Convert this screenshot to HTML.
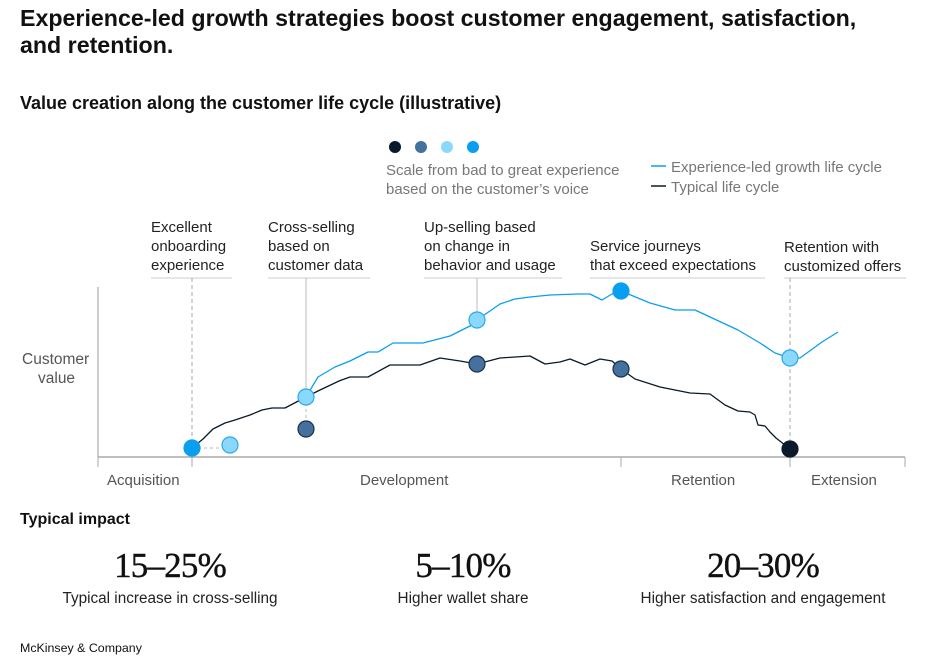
<!DOCTYPE html>
<html><head><meta charset="utf-8">
<style>
html,body{margin:0;padding:0;background:#fff;width:940px;height:665px;overflow:hidden}
svg{display:block;font-family:"Liberation Sans",sans-serif}
</style></head>
<body>
<svg id="chart" width="940" height="665" viewBox="0 0 940 665">
<text x="20" y="26" font-size="23.2" font-weight="bold" fill="#111">Experience-led growth strategies boost customer engagement, satisfaction,</text>
<text x="20" y="53" font-size="23.2" font-weight="bold" fill="#111">and retention.</text>
<text x="20" y="109" font-size="18" font-weight="bold" fill="#111">Value creation along the customer life cycle (illustrative)</text>

<g>
<circle cx="395" cy="147" r="6" fill="#0a1a2a"/>
<circle cx="421" cy="147" r="6" fill="#44719e"/>
<circle cx="447" cy="147" r="6" fill="#8ad8fb"/>
<circle cx="473" cy="147" r="6" fill="#0a9ef0"/>
<text x="386" y="175" font-size="15" fill="#777">Scale from bad to great experience</text>
<text x="386" y="194" font-size="15" fill="#777">based on the customer’s voice</text>
<line x1="651" y1="166" x2="666" y2="166" stroke="#0a9ef0" stroke-width="1.5"/>
<text x="671" y="172" font-size="15" fill="#777">Experience-led growth life cycle</text>
<line x1="651" y1="186" x2="666" y2="186" stroke="#0a1a2a" stroke-width="1.5"/>
<text x="671" y="192" font-size="15" fill="#777">Typical life cycle</text>
</g>

<g font-size="15" fill="#222">
<text x="151" y="232"><tspan x="151">Excellent</tspan><tspan x="151" dy="19">onboarding</tspan><tspan x="151" dy="19">experience</tspan></text>
<line x1="151" y1="278" x2="232" y2="278" stroke="#ddd" stroke-width="1.5"/>
<text x="268" y="232"><tspan x="268">Cross-selling</tspan><tspan x="268" dy="19">based on</tspan><tspan x="268" dy="19">customer data</tspan></text>
<line x1="268" y1="278" x2="370" y2="278" stroke="#ddd" stroke-width="1.5"/>
<text x="424" y="232"><tspan x="424">Up-selling based</tspan><tspan x="424" dy="19">on change in</tspan><tspan x="424" dy="19">behavior and usage</tspan></text>
<line x1="424" y1="278" x2="562" y2="278" stroke="#ddd" stroke-width="1.5"/>
<text x="590" y="251"><tspan x="590">Service journeys</tspan><tspan x="590" dy="19">that exceed expectations</tspan></text>
<line x1="590" y1="278" x2="765" y2="278" stroke="#ddd" stroke-width="1.5"/>
<text x="784" y="252"><tspan x="784">Retention with</tspan><tspan x="784" dy="19">customized offers</tspan></text>
<line x1="784" y1="278" x2="906" y2="278" stroke="#ddd" stroke-width="1.5"/>
</g>

<text x="22" y="364" font-size="15.5" fill="#555">Customer</text>
<text x="38" y="383" font-size="15.5" fill="#555">value</text>

<g id="plot"></g>

<text x="20" y="524" font-size="16" font-weight="bold" fill="#111">Typical impact</text>
<g font-family="'Liberation Serif',serif" font-size="35" fill="#111" text-anchor="middle" letter-spacing="-0.8" stroke="#111" stroke-width="0.4">
<text x="170" y="577">15–25%</text>
<text x="463" y="577">5–10%</text>
<text x="763" y="577">20–30%</text>
</g>
<g font-size="15.3" fill="#222" text-anchor="middle">
<text x="170" y="603">Typical increase in cross-selling</text>
<text x="463" y="603">Higher wallet share</text>
<text x="763" y="603">Higher satisfaction and engagement</text>
</g>
<text x="20" y="652" font-size="12.4" fill="#111">McKinsey &amp; Company</text>
</svg>
<script>
// data: x = time along life cycle, y = customer value
const expX = [208,220,237,252,270,280,295,325,352,372,379,402,417,432,452,480,492,504,514,523,552,577,597,640,662,677,692,702,724,740];
const expY = [58,78,88,94,103,103,112,112,119,129,135,151,156,158,160,161,161,155,161,164,152,145,145,125,112,102,97,97,113,123];
const typX = [94,105,115,127,137,152,164,174,187,208,222,241,252,270,292,322,342,362,379,402,432,447,462,472,487,502,514,523,537,562,592,612,627,640,652,657,660,667,672,678,692];
const typY = [7,16,26,32,35,40,45,47,47,58,65,74,78,78,90,90,97,94,91,97,99,91,93,96,90,96,94,86,76,68,62,61,50,44,43,40,30,29,23,17,6];
const dotX = [94,132,208,208,379,379,523,523,692,692];
const dotY = [7,10,58,26,135,91,164,86,97,6];
const dotLevel = [3,2,2,1,2,1,3,1,2,0];
const phaseLabels = ["Acquisition","Development","Retention","Extension"];
const phaseLabelX = [9,262,573,713];
const tickX = [0,94,523,692,807];

const ns="http://www.w3.org/2000/svg";
const plot=document.getElementById('plot');
const X0=98, Y0=455;
function sx(v){return X0+v;}
function sy(v){return Y0-v;}
const levelColors=["#0a1a2a","#44719e","#8ad8fb","#0a9ef0"];
const levelStroke=["#0a1a2a","#1c2f45","#2aa8ee","#0a9ef0"];
function mk(tag,attrs){const e=document.createElementNS(ns,tag);for(const k in attrs)e.setAttribute(k,attrs[k]);plot.appendChild(e);return e;}

let g;
g=mk('line',{x1:sx(94),y1:278,x2:sx(94),y2:466,stroke:'#aaa','stroke-dasharray':'4,3'});


g=mk('line',{x1:sx(208),y1:278,x2:sx(208),y2:sy(58)-8,stroke:'#bbb'});


g=mk('line',{x1:sx(379),y1:278,x2:sx(379),y2:sy(135)-8,stroke:'#bbb'});


g=mk('line',{x1:sx(692),y1:278,x2:sx(692),y2:466,stroke:'#aaa','stroke-dasharray':'4,3'});


g=mk('line',{x1:sx(94),y1:sy(7),x2:sx(132),y2:sy(7),stroke:'#bbb','stroke-dasharray':'3,3'});


g=mk('line',{x1:sx(208),y1:sy(58),x2:sx(208),y2:sy(26),stroke:'#bbb','stroke-dasharray':'3,3'});



g=mk('line',{x1:X0,y1:287,x2:X0,y2:457,stroke:'#bbb','stroke-width':1.5});


g=mk('line',{x1:X0,y1:457,x2:905,y2:457,stroke:'#aaa','stroke-width':1.5});


tickX.forEach(function(t){
  const tk=mk('line',{x1:sx(t),y1:457,x2:sx(t),y2:467,stroke:'#aaa'});
  
  
});
phaseLabels.forEach(function(l,i){
  const t=mk('text',{x:sx(phaseLabelX[i]),y:485,'font-size':15,fill:'#555'});
  t.textContent=l;
  
  
});

function path(xs,ys){return xs.map((x,i)=>(i?'L':'M')+sx(x)+','+sy(ys[i])).join(' ');}
let p=mk('path',{d:path(typX,typY),fill:'none',stroke:'#0a1a2a','stroke-width':1.3,'stroke-linejoin':'round'});


p=mk('path',{d:path(expX,expY),fill:'none',stroke:'#0a9ef0','stroke-width':1.3,'stroke-linejoin':'round'});



dotX.forEach(function(x,i){
  const c=mk('circle',{cx:sx(x),cy:sy(dotY[i]),r:8,fill:levelColors[dotLevel[i]],stroke:levelStroke[dotLevel[i]],'stroke-width':1.2});
  
  
});
</script>
</body></html>
